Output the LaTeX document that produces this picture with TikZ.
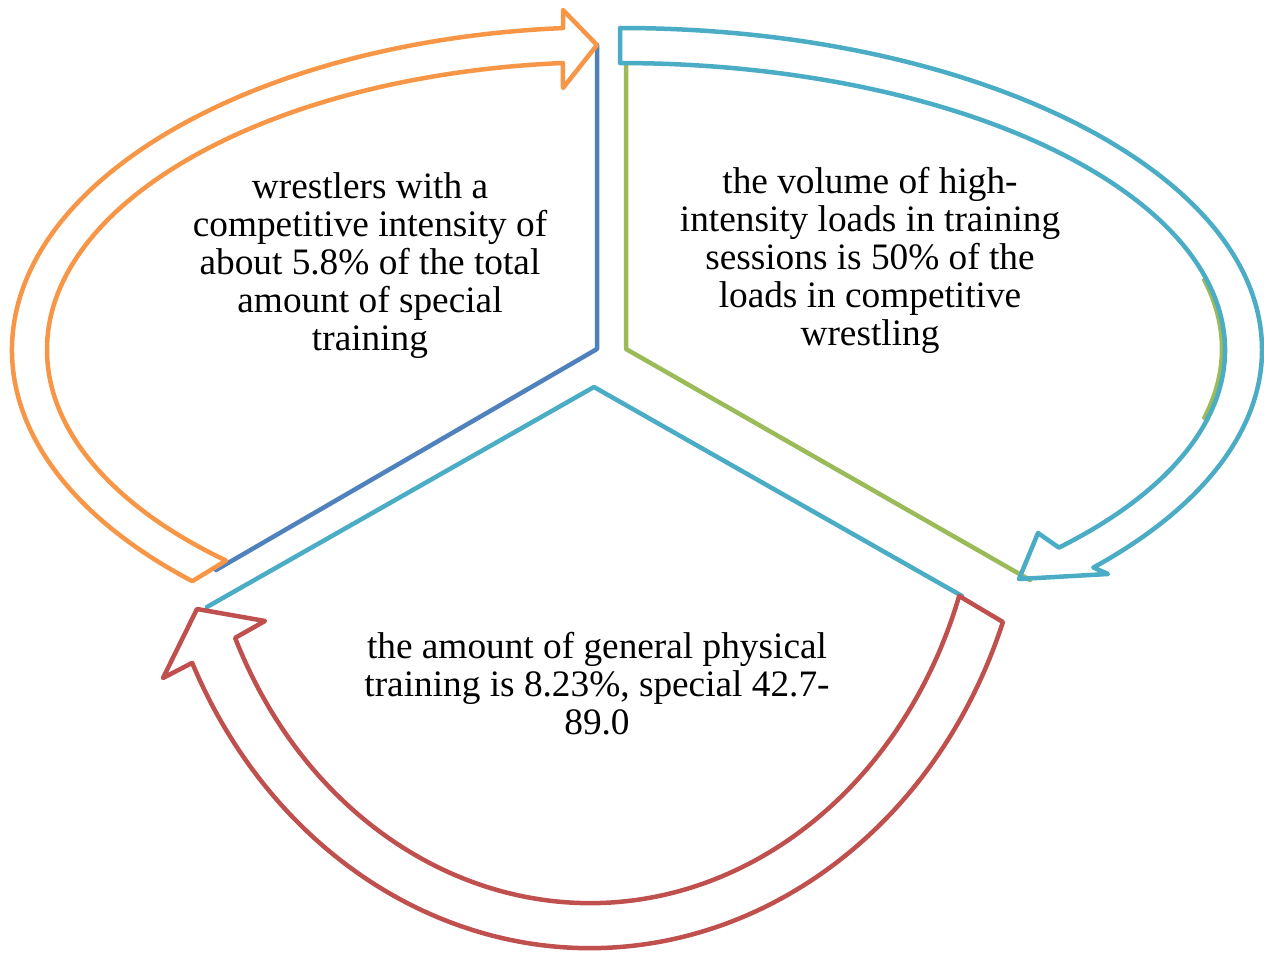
\documentclass[tikz,border=0pt]{standalone}
\usepackage{fontspec}
\setmainfont{Liberation Serif}
\definecolor{corange}{HTML}{F79646}
\definecolor{cteal}{HTML}{4BACC6}
\definecolor{cred}{HTML}{C0504D}
\definecolor{cblue}{HTML}{4F81BD}
\definecolor{cgreen}{HTML}{9BBB59}
\begin{document}
\begin{tikzpicture}[x=1pt,y=-1pt,
  shape line/.style={line width=4.5pt, line join=round, line cap=round},
  label text/.style={font=\fontsize{37.3}{38}\selectfont, align=center, inner sep=0pt}]
\useasboundingbox (0,0) rectangle (1264,955);
% sector centre points
\coordinate (cb) at (597,349);
\coordinate (cg) at (626,349);
\coordinate (ct) at (594,387);
\coordinate (b1) at (597,45);
\coordinate (b2) at (216,570);
\coordinate (g1) at (626,65);
\coordinate (g2) at (1030,580);
\coordinate (t1) at (207,607);
\coordinate (t2) at (962,596);
% sector outlines
\draw[shape line, cblue] (b1) -- (cb) -- (b2);
\draw[shape line, cgreen] (g1) -- (cg) -- (g2);
\draw[shape line, cgreen] (1204.3,280) arc[start angle=-14, end angle=14, x radius=596, y radius=285];
\draw[shape line, cteal] (t1) -- (ct) -- (t2);
% orange arrow
\draw[shape line, corange] (192.3,581.2) arc[start angle=134.3, end angle=265.5, x radius=598, y radius=323]
  -- (563,10) -- (597,45) -- (563,88) -- (562.9,63.0)
  arc[start angle=265.2, end angle=133, x radius=563, y radius=288] -- cycle;
% teal arrow
\draw[shape line, cteal] (620,28) arc[start angle=-90, end angle=42.5, x radius=642, y radius=322]
  -- (1108,574) -- (1019,579) -- (1038,533) -- (1058.9,547.6)
  arc[start angle=43.5, end angle=-90, x radius=605, y radius=287] -- cycle;
% red arrow
\draw[shape line, cred] (1002.9,622) arc[start angle=20.2, end angle=154.7, x radius=440, y radius=498]
  -- (163,678) -- (197,609) -- (265,621) -- (235.1,637.9)
  arc[start angle=155.5, end angle=18.8, x radius=390, y radius=453] -- cycle;
% texts
\node[label text] (txa) at (370,266) {wrestlers with a\\competitive intensity of\\about 5.8\% of the total\\amount of special\\training};
\node[label text] (txb) at (870,260) {the volume of high-\\intensity loads in training\\sessions is 50\% of the\\loads in competitive\\wrestling};
\node[label text] (txc) at (597,684) {the amount of general physical\\training is 8.23\%, special 42.7-\\89.0};
\end{tikzpicture}
\end{document}
